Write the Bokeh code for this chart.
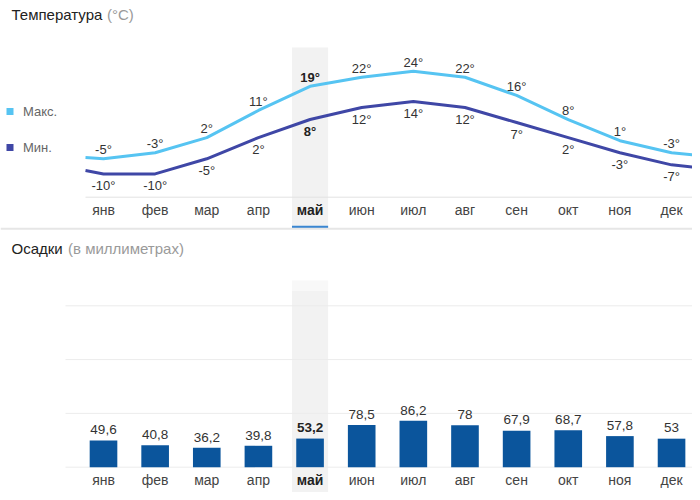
from bokeh.plotting import figure
from bokeh.models import ColumnDataSource, Range1d, Label, Span
from bokeh.layouts import column
from bokeh.core.properties import value
from bokeh.embed import file_html
from bokeh.resources import INLINE

# ---------------- data ----------------
months = ["янв", "фев", "мар", "апр", "май", "июн", "июл", "авг", "сен", "окт", "ноя", "дек"]
max_t = [-5, -3, 2, 11, 19, 22, 24, 22, 16, 8, 1, -3]
min_t = [-10, -10, -5, 2, 8, 12, 14, 12, 7, 2, -3, -7]
max_edge = [-4.6, -3.9]   # line values at the left / right plot edges
min_edge = [-8.9, -8.0]
precip = [49.6, 40.8, 36.2, 39.8, 53.2, 78.5, 86.2, 78, 67.9, 68.7, 57.8, 53]
precip_grid = [0, 100, 200, 300]
current = "май"

FONT = value("Liberation Sans")
C_MAX = "#56c4f2"
C_MIN = "#3f47a6"
C_BAR = "#0b559c"
C_TXT = "#333333"
C_BAND = "#f2f2f2"

W = 692
H1, H2 = 232, 260
S = 10  # vertical shift (px) of the precipitation block so it fits
X0_ABS, DX = 103.0, 51.64
X_LO, X_HI = (0 - X0_ABS) / DX, (W - X0_ABS) / DX
T0_ABS, DT = 143.2, 3.02
Y1_HI, Y1_LO = (T0_ABS - 0) / DT, (T0_ABS - H1) / DT
P0_ABS, DP = 476.7 - S, 0.538
Y2_HI, Y2_LO = (P0_ABS - H1) / DP, (P0_ABS - (H1 + H2)) / DP

def ax(px):
    return (px - X0_ABS) / DX

def ay1(py):
    return (T0_ABS - py) / DT

def ay2(py):      # reference page y -> mm (with shift)
    return (P0_ABS - (py - S)) / DP

idx = list(range(len(months)))
cur = months.index(current)
HALF = 0.35
PLOT_L = ax(85)

def base_fig(h, ylo, yhi):
    p = figure(width=W, height=h, output_backend="svg", toolbar_location=None,
               x_range=Range1d(X_LO, X_HI), y_range=Range1d(ylo, yhi),
               min_border=0, min_border_left=0, min_border_right=0,
               min_border_top=0, min_border_bottom=0)
    p.axis.visible = False
    p.grid.visible = False
    p.outline_line_color = None
    p.background_fill_color = "white"
    p.border_fill_color = "white"
    return p

# ---------------- temperature ----------------
p1 = base_fig(H1, Y1_LO, Y1_HI)
p1.quad(left=[cur - HALF], right=[cur + HALF], top=[ay1(47)], bottom=[ay1(226)],
        fill_color=C_BAND, line_color=None)
p1.segment(x0=[PLOT_L], x1=[X_HI], y0=[ay1(196.7)], y1=[ay1(196.7)],
           line_color="#e3e3e3", line_width=1)
p1.add_layout(Span(location=ay1(228.3), dimension="width", line_color="#e6e6e6", line_width=2))
p1.quad(left=[cur - HALF], right=[cur + HALF], top=[ay1(225.3)], bottom=[ay1(228.6)],
        fill_color="#3a86d1", line_color=None)

xs_line = [PLOT_L] + idx + [ax(700)]
p1.line(xs_line, [max_edge[0]] + max_t + [max_edge[1]], line_color=C_MAX, line_width=3)
p1.line(xs_line, [min_edge[0]] + min_t + [min_edge[1]], line_color=C_MIN, line_width=3)

def split(vals, fmt):
    n = dict(x=[], y=[], t=[])
    b = dict(x=[], y=[], t=[])
    for i, v in enumerate(vals):
        d = b if i == cur else n
        d["x"].append(i)
        d["y"].append(v)
        d["t"].append(fmt(v))
    return n, b

deg = lambda v: f"{v}°"
mx_n, mx_b = split(max_t, deg)
mn_n, mn_b = split(min_t, deg)
off_up = 9.2 / DT
off_dn = 12.0 / DT
for d, off, style in [(mx_n, off_up, "normal"), (mx_b, off_up, "bold"),
                      (mn_n, -off_dn, "normal"), (mn_b, -off_dn, "bold")]:
    src = ColumnDataSource(dict(x=d["x"], y=[v + off for v in d["y"]], t=d["t"]))
    p1.text(x="x", y="y", text="t", source=src, text_font=FONT, text_font_size=value("13px"),
            text_font_style=style, text_color=C_TXT if style == "normal" else "#222222",
            text_align="center", text_baseline="middle")

m_n = [m for m in months if m != current]
m_nx = [i for i, m in enumerate(months) if m != current]
src_m1 = ColumnDataSource(dict(x=m_nx, y=[ay1(209.2)] * len(m_nx), t=m_n))
p1.text(x="x", y="y", text="t", source=src_m1, text_font=FONT, text_font_size=value("14px"),
        text_color="#444444", text_align="center", text_baseline="middle")
p1.text(x=[cur], y=[ay1(209.2)], text=[current], text_font=FONT, text_font_size=value("14px"),
        text_font_style="bold", text_color="#222222", text_align="center", text_baseline="middle")

p1.add_layout(Label(x=ax(11), y=ay1(14.2), text="Температура", text_font="Liberation Sans",
                    text_font_size="15px", text_color="#222222", text_baseline="middle"))
p1.add_layout(Label(x=ax(106.5), y=ay1(14.2), text="(°C)", text_font="Liberation Sans",
                    text_font_size="15px", text_color="#9a9a9a", text_baseline="middle"))
p1.scatter(x=[ax(9.5), ax(9.5)], y=[ay1(111), ay1(147)], marker="square", size=7,
           fill_color=[C_MAX, C_MIN], line_color=None)
p1.add_layout(Label(x=ax(22.5), y=ay1(111), text="Макс.", text_font="Liberation Sans",
                    text_font_size="13px", text_color="#666666", text_baseline="middle"))
p1.add_layout(Label(x=ax(22.5), y=ay1(147), text="Мин.", text_font="Liberation Sans",
                    text_font_size="13px", text_color="#666666", text_baseline="middle"))

# ---------------- precipitation ----------------
p2 = base_fig(H2, Y2_LO, Y2_HI)
p2.quad(left=[cur - HALF], right=[cur + HALF], top=[ay2(300)], bottom=[Y2_LO],
        fill_color=C_BAND, line_color=None)
p2.quad(left=[cur - HALF], right=[cur + HALF], top=[ay2(290)], bottom=[ay2(300)],
        fill_color="#f8f8f8", line_color=None)
g_x0 = ax(65)
p2.segment(x0=[g_x0] * len(precip_grid), x1=[X_HI] * len(precip_grid),
           y0=precip_grid, y1=precip_grid, line_color="#ececec", line_width=1)
p2.vbar(x=idx, top=precip, bottom=0, width=0.535, fill_color=C_BAR, line_color=None)

fmt_mm = lambda v: f"{v:g}".replace(".", ",")
pr_n, pr_b = split(precip, fmt_mm)
off_bar = 10.7 / DP
for d, style in [(pr_n, "normal"), (pr_b, "bold")]:
    src = ColumnDataSource(dict(x=d["x"], y=[v + off_bar for v in d["y"]], t=d["t"]))
    p2.text(x="x", y="y", text="t", source=src, text_font=FONT, text_font_size=value("13.5px"),
            text_font_style=style, text_color=C_TXT if style == "normal" else "#222222",
            text_align="center", text_baseline="middle")

src_m2 = ColumnDataSource(dict(x=m_nx, y=[ay2(489.2)] * len(m_nx), t=m_n))
p2.text(x="x", y="y", text="t", source=src_m2, text_font=FONT, text_font_size=value("14px"),
        text_color="#444444", text_align="center", text_baseline="middle")
p2.text(x=[cur], y=[ay2(489.2)], text=[current], text_font=FONT, text_font_size=value("14px"),
        text_font_style="bold", text_color="#222222", text_align="center", text_baseline="middle")

p2.add_layout(Label(x=ax(11), y=ay2(257.5), text="Осадки", text_font="Liberation Sans",
                    text_font_size="15px", text_color="#222222", text_baseline="middle"))
p2.add_layout(Label(x=ax(67.5), y=ay2(257.5), text="(в миллиметрах)", text_font="Liberation Sans",
                    text_font_size="15px", text_color="#9a9a9a", text_baseline="middle"))

layout = column(p1, p2, spacing=0)
open("out.html", "w").write(file_html(layout, INLINE))
